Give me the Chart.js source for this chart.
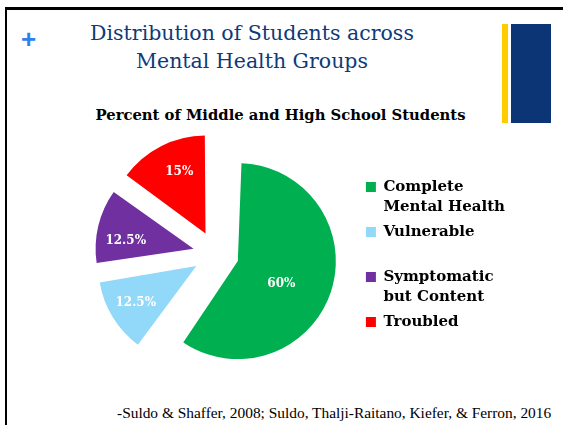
<!DOCTYPE html>
<html>
<head>
<meta charset="utf-8">
<script src="https://cdn.jsdelivr.net/npm/chart.js@4/dist/chart.umd.min.js"></script>
<style>
  body { margin: 0; width: 563px; height: 425px; overflow: hidden; background: #fff; position: relative; }
  #frame { position: absolute; left: 5px; top: 7px; width: 600px; height: 500px; border-left: 2px solid #000; border-top: 3px solid #000; }
  #plus { position: absolute; left: 21px; top: 26px; font: bold 26px/26px "Liberation Sans", Arial, sans-serif; color: #2f80ec; }
  #title { position: absolute; left: 0; top: 19px; width: 504px; text-align: center; font: 20.5px/28px "DejaVu Serif", serif; color: #0e3a78; }
  #subtitle { position: absolute; left: 0; top: 106px; width: 561px; text-align: center; font: bold 14.8px/18px "DejaVu Serif", serif; color: #000; }
  #source { position: absolute; left: 117px; top: 404px; font: 15.4px/18px "Liberation Serif", "Times New Roman", serif; color: #000; white-space: nowrap; }
  #gold { position: absolute; left: 502px; top: 24px; width: 6px; height: 99px; background: #ffcc00; }
  #navy { position: absolute; left: 511px; top: 24px; width: 40px; height: 99px; background: #0b3574; }
  #chart { position: absolute; left: 71px; top: 120px; }
</style>
</head>
<body>
<div id="frame"></div>
<div id="plus">+</div>
<div id="title">Distribution of Students across<br>Mental Health Groups</div>
<div id="gold"></div>
<div id="navy"></div>
<div id="subtitle">Percent of Middle and High School Students</div>
<canvas id="chart" width="444" height="268"></canvas>
<div id="source">-Suldo &amp; Shaffer, 2008; Suldo, Thalji-Raitano, Kiefer, &amp; Ferron, 2016</div>
<script>
const groups = [['Complete', 'Mental Health'], ['Vulnerable', ''], ['Symptomatic', 'but Content'], ['Troubled', '']];
const percents = [60, 12.5, 12.5, 15];
const colors = ['#00b050', '#92d8f8', '#7030a0', '#ff0000'];

// v4 makes an offset arc a bit bigger; take that back so the exploded slices keep one radius
const baseDraw = Chart.ArcElement.prototype.draw;
Chart.ArcElement.prototype.draw = function(ctx) {
  const shift = (this.options.offset || 0) / 4;
  const grow = shift * (1 - Math.sin(Math.min(Math.PI, this.circumference || 0)));
  this.outerRadius -= grow;
  baseDraw.call(this, ctx);
  this.outerRadius += grow;
};

// white percent labels inside the slices (turn in degrees off the slice middle, depth as share of radius)
const sliceLabels = {
  id: 'sliceLabels',
  afterDatasetsDraw(chart) {
    const {ctx} = chart;
    const ds = chart.data.datasets[0];
    const shift = ds.offset / 4;
    const turn = [6.7, 0, -5.5, 3];
    const depth = [0.5, 0.725, 0.695, 0.685];
    ctx.save();
    ctx.font = 'bold 12px "DejaVu Serif"';
    ctx.fillStyle = '#fff';
    ctx.textAlign = 'center';
    ctx.textBaseline = 'middle';
    chart.getDatasetMeta(0).data.forEach((arc, i) => {
      const mid = (arc.startAngle + arc.endAngle) / 2 + turn[i] * Math.PI / 180;
      const r = shift + depth[i] * arc.outerRadius;
      ctx.fillText(ds.data[i] + '%', arc.x + Math.cos(mid) * r, arc.y + Math.sin(mid) * r);
    });
    ctx.restore();
  }
};

new Chart(document.getElementById('chart'), {
  type: 'pie',
  data: {
    labels: groups,
    datasets: [{ data: percents, backgroundColor: colors, borderWidth: 0, offset: 92 }]
  },
  options: {
    responsive: false,
    animation: false,
    radius: 98,
    plugins: {
      tooltip: { enabled: false },
      legend: {
        position: 'right',
        title: { display: true, text: '', padding: 0, font: { size: 26, lineHeight: 1 } },
        labels: {
          boxWidth: 10,
          boxHeight: 10,
          padding: 5,
          color: '#000',
          font: { family: '"DejaVu Serif"', size: 15, weight: 'bold', lineHeight: 20 / 15 }
        }
      }
    }
  },
  plugins: [sliceLabels]
});
</script>
</body>
</html>
